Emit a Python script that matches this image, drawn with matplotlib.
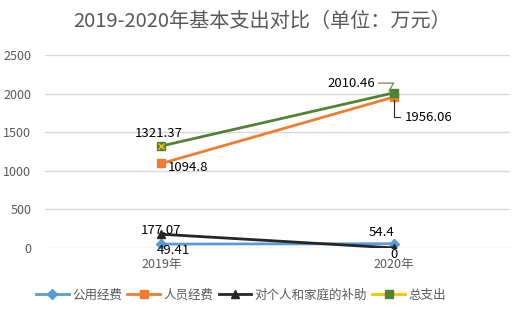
import matplotlib
matplotlib.use('Agg')
import matplotlib.pyplot as plt
from matplotlib.lines import Line2D

plt.rcParams['font.family'] = ['Noto Sans CJK SC', 'DejaVu Sans']

# ── Data ──
years = ['2019年', '2020年']
public_cost = [49.41, 54.4]
staff_cost = [1094.8, 1956.06]
subsidy = [177.07, 0]
total = [1321.37, 2010.46]

blue = '#5B9BD5'
orange = '#ED7D31'
black = '#262626'
green = '#548235'
yellow = '#FFC000'

fig = plt.figure(figsize=(5.24, 3.15), dpi=100)
ax = fig.add_axes([0.086, 0.213, 0.887, 0.612])

x = list(range(len(years)))
ax.plot(x, public_cost, color=blue, lw=2, marker='D', ms=5, zorder=3)
ax.plot(x, staff_cost, color=orange, lw=2, marker='s', ms=6, zorder=3)
ax.plot(x, subsidy, color=black, lw=2, marker='^', ms=6, zorder=4)
ax.plot(x, total, color=green, lw=2, marker='s', ms=6, zorder=3)
ax.plot(x[:1], total[:1], ls='none', marker='x', color=yellow, ms=5, mew=1, zorder=5)

lab = dict(fontsize=9.5, color='black', zorder=6)
ax.text(x[0] - 0.01, total[0] + 160, f'{total[0]:.2f}', ha='center', va='center', **lab)
ax.text(x[0] + 0.03, staff_cost[0] - 50, f'{staff_cost[0]}', ha='left', va='center', **lab)
ax.text(x[0], subsidy[0] + 55, f'{subsidy[0]:.2f}', ha='center', va='center', **lab)
ax.text(x[0] + 0.05, public_cost[0] - 85, f'{public_cost[0]:.2f}', ha='center', va='center', **lab)
ax.text(x[1] - 0.05, public_cost[1] + 140, f'{public_cost[1]}', ha='center', va='center', **lab)
ax.text(x[1], subsidy[1] - 90, f'{subsidy[1]:g}', ha='center', va='center', **lab)

# labels with leader lines
ax.annotate(f'{total[1]:.2f}', xy=(x[1] - 0.02, total[1] + 25),
            xytext=(x[1] - 0.18, total[1] + 127), ha='center', va='center',
            arrowprops=dict(arrowstyle='-', color=green, lw=0.8, shrinkA=22, shrinkB=0,
                            connectionstyle='angle,angleA=0,angleB=60,rad=0'),
            **lab)
ax.annotate(f'{staff_cost[1]:.2f}', xy=(x[1], staff_cost[1] - 40),
            xytext=(x[1] + 0.05, staff_cost[1] - 260), ha='left', va='center',
            arrowprops=dict(arrowstyle='-', color=black, lw=0.8, shrinkA=2, shrinkB=0,
                            connectionstyle='angle,angleA=0,angleB=90,rad=0'),
            **lab)

ax.set_xlim(-0.5, 1.5)
ax.set_ylim(0, 2500)
ax.set_yticks(range(0, 2501, 500))
ax.set_xticks(x)
ax.set_xticklabels(years)
ax.tick_params(axis='both', length=0, labelsize=9, colors='#595959')
ax.tick_params(axis='y', pad=10)
ax.tick_params(axis='x', pad=7)
ax.grid(axis='y', color='#D9D9D9', lw=1)
ax.set_axisbelow(True)
for sp in ax.spines.values():
    sp.set_visible(False)

fig.suptitle('2019-2020年基本支出对比（单位：万元）', fontsize=14.5, color='#595959',
             y=0.965, x=0.5)

handles = [
    Line2D([], [], color=blue, lw=2, marker='D', ms=5),
    Line2D([], [], color=orange, lw=2, marker='s', ms=6),
    Line2D([], [], color=black, lw=2, marker='^', ms=6),
    Line2D([], [], color=yellow, lw=2, marker='s', ms=6, mfc=green, mec=green),
]
names = ['公用经费', '人员经费', '对个人和家庭的补助', '总支出']
fig.legend(handles, names, loc='center', bbox_to_anchor=(0.46, 0.063), ncol=4,
           frameon=False, fontsize=9, handlelength=2.6, columnspacing=0.4,
           handletextpad=0.3, labelcolor='#595959')

fig.savefig('out.png', dpi=100, facecolor='white')
